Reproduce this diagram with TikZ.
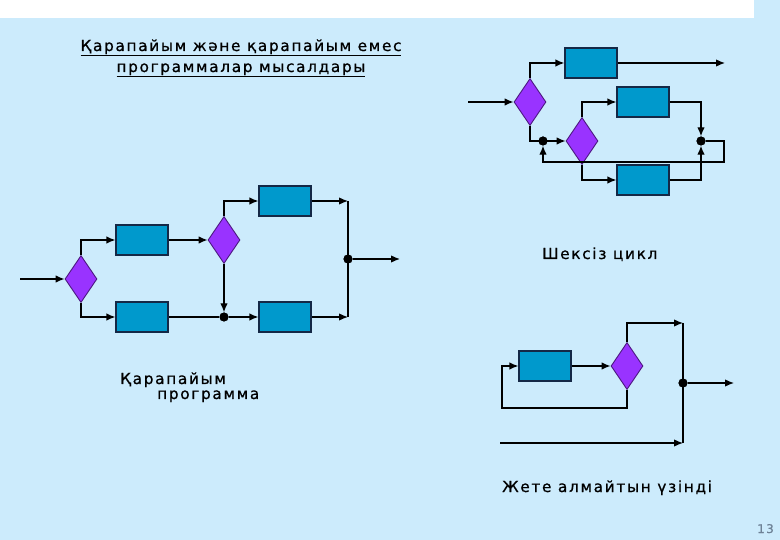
\documentclass[tikz,border=0pt]{standalone}
\usepackage{fontspec}
\setmainfont{DejaVu Sans}[LetterSpace=11,FakeBold=0.8]
\usetikzlibrary{arrows.meta,shapes.geometric}
\definecolor{bgblue}{RGB}{204,235,252}
\definecolor{boxblue}{RGB}{0,153,204}
\definecolor{diapurple}{RGB}{153,51,255}
\definecolor{boxline}{RGB}{20,40,70}
\definecolor{pagenum}{RGB}{110,130,150}
\tikzset{
  box/.style={draw=boxline, line width=1.2pt, fill=boxblue, minimum width=52pt, minimum height=30pt, inner sep=0pt},
  dia/.style={draw=diapurple!50!black, line width=0.9pt, fill=diapurple, diamond, minimum width=32pt, minimum height=47pt, inner sep=0pt},
  dot/.style={circle, fill=black, minimum size=9pt, inner sep=0pt},
  con/.style={draw=black, line width=1.3pt},
  arr/.style={con, -{Latex[length=9pt,width=7.5pt]}},
  txt/.style={font=\fontsize{15.3pt}{17pt}\selectfont, inner sep=0pt},
  lab/.style={txt, anchor=base west},
}
\begin{document}
\begin{tikzpicture}[x=1pt,y=-1pt]
\useasboundingbox (0,0) rectangle (780,540);
\fill[bgblue] (0,0) rectangle (780,540);
\fill[white] (0,0) rectangle (754,18);
% title
\node[txt, anchor=base] (t1) at (241,51) {\underline{Қарапайым және қарапайым емес}};
\node[txt, anchor=base] (t2) at (241,72) {\underline{программалар мысалдары}};
% ---------- left diagram ----------
\coordinate (ain) at (20,279);
\node[dia] (a1) at (81,279) {};
\node[box] (ab1) at (142,240) {};
\node[box] (ab2) at (142,317) {};
\node[dia] (a2) at (224,240) {};
\node[box] (ab3) at (285,201) {};
\node[box] (ab4) at (285,317) {};
\node[dot] (ad1) at (224,317) {};
\coordinate (ac1) at (348,201);
\coordinate (ac2) at (348,317);
\node[dot] (ad2) at (348,259) {};
\coordinate (aout) at (400,259);
\draw[arr] (ain) -- (a1.west);
\draw[arr] (a1.north) |- (ab1.west);
\draw[arr] (a1.south) |- (ab2.west);
\draw[arr] (ab1.east) -- (a2.west);
\draw[arr] (a2.north) |- (ab3.west);
\draw[arr] (a2.south) -- (ad1.north);
\draw[con] (ab2.east) -- (ad1);
\draw[arr] (ad1) -- (ab4.west);
\draw[arr] (ab3.east) -- (ac1);
\draw[arr] (ab4.east) -- (ac2);
\draw[con] (ac1) -- (ac2);
\draw[arr] (ad2) -- (aout);
\node[dot] at (ad1) {};
\node[dot] at (ad2) {};
\node[lab] (l1) at (120,384) {Қарапайым};
\node[lab] (l2) at (157,399) {программа};
% ---------- top right diagram ----------
\coordinate (bin) at (468,102);
\node[dia] (b1) at (530,102) {};
\node[box] (bt1) at (591,63) {};
\coordinate (bout) at (725,63);
\node[dot] (bd1) at (543,141) {};
\node[dia] (b2) at (582,141) {};
\node[box] (bt2) at (643,102) {};
\node[box] (bt3) at (643,180) {};
\node[dot] (bd2) at (701,141) {};
\coordinate (bl1) at (724,162);
\draw[arr] (bin) -- (b1.west);
\draw[arr] (b1.north) |- (bt1.west);
\draw[arr] (bt1.east) -- (bout);
\draw[arr] (b1.south) |- (b2.west);
\draw[arr] (b2.north) |- (bt2.west);
\draw[arr] (b2.south) |- (bt3.west);
\draw[arr] (bt2.east) -| (bd2.north);
\draw[arr] (bt3.east) -| (bd2.south);
\draw[arr] (bd2) -| (bl1) -| (bd1.south);
\node[dot] at (bd1) {};
\node[dot] at (bd2) {};
\node[lab] (l3) at (542,259) {Шексіз цикл};
% ---------- bottom right diagram ----------
\node[box] (c1) at (545,366) {};
\node[dia] (c2) at (627,366) {};
\coordinate (ct) at (683,323);
\coordinate (cb) at (683,443);
\node[dot] (cd) at (683,383) {};
\coordinate (cout) at (734,383);
\coordinate (cin) at (500,443);
\coordinate (cl) at (502,408);
\draw[arr] (c1.east) -- (c2.west);
\draw[arr] (c2.north) |- (ct);
\draw[arr] (cin) -- (cb);
\draw[con] (ct) -- (cb);
\draw[arr] (cd) -- (cout);
\draw[arr] (c2.south) |- (cl) |- (c1.west);
\node[dot] at (cd) {};
\node[lab] (l4) at (502,492) {Жете алмайтын үзінді};
% page number
\node[font=\fontsize{12pt}{14pt}\selectfont, text=pagenum, inner sep=0pt, anchor=base east] (pn) at (774,533) {13};
\end{tikzpicture}
\end{document}
